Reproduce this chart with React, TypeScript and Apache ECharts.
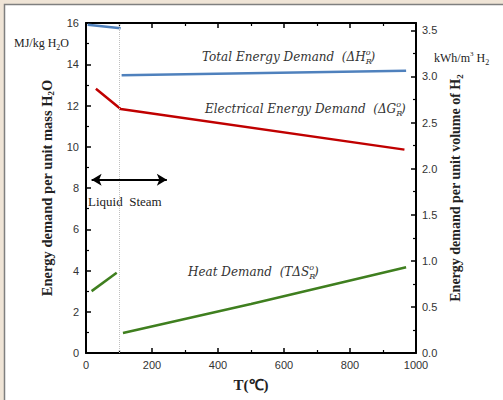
import React, { useEffect, useRef } from "react";
import * as echarts from "echarts";

// Data (T in °C, energy in MJ/kg H2O)
const totalLiquid: [number, number][] = [[5, 15.92], [105, 15.74]];
const totalSteam: [number, number][] = [[108, 13.47], [970, 13.68]];
const electrical: [number, number][] = [[30, 12.81], [105, 11.83], [965, 9.86]];
const heatLiquid: [number, number][] = [[17, 3.0], [93, 3.89]];
const heatSteam: [number, number][] = [[112, 0.97], [500, 2.38], [970, 4.16]];
const phaseBoundary = 100;
const arrowSpan: [number, number][] = [[17, 8.4], [245, 8.4]];

const BLUE = "#4f81bd";
const RED = "#c00000";
const GREEN = "#3f7f1f";

export default function App() {
  const ref = useRef<HTMLDivElement>(null);
  useEffect(() => {
    if (!ref.current) return;
    const chart = echarts.init(ref.current, null, { renderer: "svg" });
    const serif = "Liberation Serif";
    const annFont = "DejaVu Serif";
    const sans = "Liberation Sans";
    const tickCommon = {
      axisLine: { show: true, onZero: false, lineStyle: { color: "#000", width: 2 } },
      axisTick: { show: true, inside: true, length: 5, lineStyle: { color: "#000", width: 1.5 } },
      minorTick: { show: true, splitNumber: 2, length: 3, lineStyle: { color: "#000", width: 1.2 } },
      splitLine: { show: false },
    };
    const richSub = {
      sub: { fontFamily: serif, fontWeight: "bold", fontSize: 9, verticalAlign: "bottom", lineHeight: 18 },
    } as any;
    const annRich = {
      s: { fontSize: 8, fontStyle: "italic", fontFamily: annFont, width: 0, verticalAlign: "bottom", lineHeight: 17 },
      o: { fontSize: 8, fontStyle: "italic", fontFamily: annFont, verticalAlign: "top", lineHeight: 17 },
    };
    const ann = (x: number, y: number, text: string) => ({
      type: "text",
      x,
      y,
      style: {
        text,
        fill: "#333",
        font: `italic 12px ${annFont}`,
        verticalAlign: "middle",
        rich: annRich,
      },
    });
    chart.setOption({
      animation: false,
      backgroundColor: "#efe4d6",
      graphic: [
        {
          type: "rect",
          z: -10,
          shape: { x: 4.5, y: 4.5, width: 520, height: 420 },
          style: { fill: "#ffffff", stroke: "#7f7f7f", lineWidth: 1.5 },
        },
        ann(202, 57, "Total Energy Demand  (ΔH{s|R}{o|o})"),
        ann(205, 109, "Electrical Energy Demand  (ΔG{s|R}{o|o})"),
        ann(188, 272, "Heat Demand  (TΔS{s|R}{o|o})"),
        {
          type: "text",
          x: 14,
          y: 43,
          style: {
            text: "MJ/kg H{s|2}O",
            fill: "#222",
            font: `12px ${serif}`,
            verticalAlign: "middle",
            rich: { s: { fontSize: 8, fontFamily: serif, verticalAlign: "bottom", lineHeight: 16 } },
          },
        },
        {
          type: "text",
          x: 434,
          y: 58,
          style: {
            text: "kWh/m{p|3} H{s|2}",
            fill: "#222",
            font: `12px ${serif}`,
            verticalAlign: "middle",
            rich: {
              s: { fontSize: 8, fontFamily: serif, verticalAlign: "bottom", lineHeight: 16 },
              p: { fontSize: 7, fontFamily: serif, verticalAlign: "top", lineHeight: 16 },
            },
          },
        },
        {
          type: "text",
          x: 88,
          y: 201,
          style: { text: "Liquid  Steam", fill: "#222", font: `13px ${serif}`, verticalAlign: "middle" },
        },
      ],
      grid: { left: 86, right: 87, top: 23, bottom: 47, containLabel: false },
      xAxis: [
        {
          type: "value",
          min: 0,
          max: 1000,
          interval: 200,
          position: "bottom",
          ...tickCommon,
          axisLabel: { color: "#333", fontFamily: sans, fontSize: 11, margin: 6, formatter: (v: number) => String(v) },
          name: "T(℃)",
          nameLocation: "middle",
          nameGap: 24,
          nameTextStyle: { fontFamily: serif, fontWeight: "bold", fontSize: 15, color: "#222" },
        },
        {
          type: "value",
          min: 0,
          max: 1000,
          interval: 200,
          position: "top",
          ...tickCommon,
          axisLabel: { show: false },
        },
      ],
      yAxis: [
        {
          type: "value",
          min: 0,
          max: 16,
          interval: 2,
          position: "left",
          ...tickCommon,
          axisLabel: { color: "#333", fontFamily: sans, fontSize: 11, margin: 7 },
          name: "Energy demand per unit mass H{sub|2}O",
          nameLocation: "middle",
          nameRotate: 90,
          nameGap: 29,
          nameTextStyle: { fontFamily: serif, fontWeight: "bold", fontSize: 14.5, color: "#222", rich: richSub, padding: [0, 0, 0, 0] },
        },
        {
          type: "value",
          min: 0,
          max: 3.58,
          interval: 0.5,
          position: "right",
          ...tickCommon,
          axisLabel: {
            color: "#333",
            fontFamily: sans,
            fontSize: 11,
            margin: 6,
            showMaxLabel: false,
            formatter: (v: number) => v.toFixed(1),
          },
          name: "Energy demand per unit volume of H{sub|2}",
          nameLocation: "middle",
          nameRotate: 90,
          nameGap: 30,
          nameTextStyle: { fontFamily: serif, fontWeight: "bold", fontSize: 14, color: "#222", rich: richSub },
        },
      ],
      series: [
        {
          type: "line",
          data: totalLiquid,
          showSymbol: false,
          lineStyle: { color: BLUE, width: 2.5 },
          markLine: {
            silent: true,
            symbol: "none",
            label: { show: false },
            lineStyle: { color: "#c0c0c0", type: "dotted", width: 1 },
            data: [{ xAxis: phaseBoundary }],
          },
        },
        { type: "line", data: totalSteam, showSymbol: false, lineStyle: { color: BLUE, width: 2.5 } },
        { type: "line", data: electrical, showSymbol: false, lineStyle: { color: RED, width: 2.5 } },
        { type: "line", data: heatLiquid, showSymbol: false, lineStyle: { color: GREEN, width: 2.5 } },
        {
          type: "line",
          data: heatSteam,
          showSymbol: false,
          lineStyle: { color: GREEN, width: 2.5 },
          markLine: {
            silent: true,
            symbol: ["arrow", "arrow"],
            symbolSize: [9, 10],
            label: { show: false },
            lineStyle: { color: "#000", type: "solid", width: 2 },
            data: [[{ coord: arrowSpan[0] }, { coord: arrowSpan[1] }]],
          },
        },
      ],
    });
    return () => chart.dispose();
  }, []);
  return <div ref={ref} style={{ width: 503, height: 400, position: "absolute", left: 0, top: 0 }} />;
}
